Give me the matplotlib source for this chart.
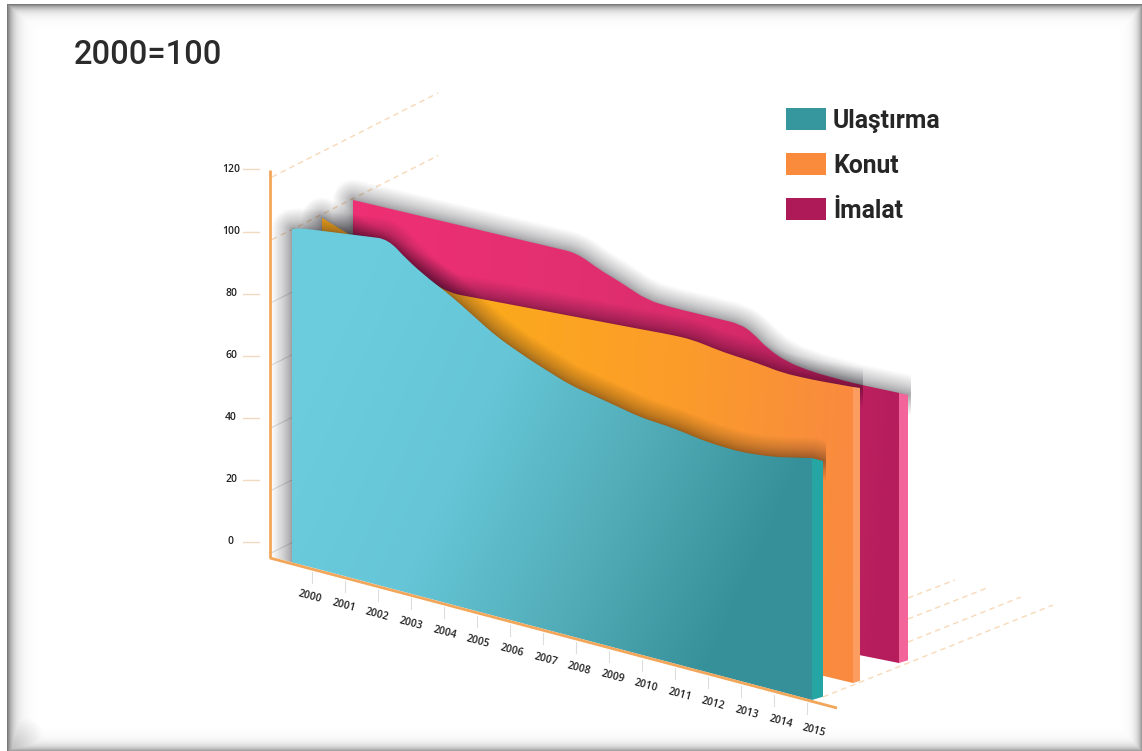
import numpy as np
import matplotlib
matplotlib.use('Agg')
import matplotlib.pyplot as plt
from matplotlib.colors import LinearSegmentedColormap
from matplotlib.patches import PathPatch, Polygon, Rectangle
from matplotlib.path import Path
from matplotlib.transforms import Affine2D

# index values, 2000=100, read along the top edge of each panel
ulastirma_years = [2000, 2000.23, 2002.77, 2003.32, 2003.98, 2004.56, 2005.91, 2006.86,
                   2008.02, 2009.17, 2010.04, 2011.0, 2011.97, 2012.92, 2013.87, 2015]
ulastirma = [100, 101, 105, 99.9, 95.4, 92.2, 82.7, 78.1,
             73.4, 71, 69, 68.3, 66.7, 66.3, 67.5, 70.5]
konut_years = [2000, 2000.71, 2003.62, 2008.98, 2009.92, 2010.48, 2011.33,
               2012.29, 2013.02, 2013.86, 2015]
konut = [100, 97, 85.6, 88.7, 89.3, 89.3, 87.7, 86.8, 85.6, 85.7, 86.5]
imalat_years = [2000, 2006.15, 2006.79, 2007.25, 2008.08, 2008.71, 2010.63, 2010.99,
                2011.37, 2011.92, 2012.64, 2013.74, 2015]
imalat = [100, 97.3, 93.3, 91.2, 86.7, 85.9, 84.9, 82.8, 78.9, 75.7, 74.1, 73.1, 72.9]

years = list(range(2000, 2016))
y_ticks = [0, 20, 40, 60, 80, 100, 120]
legend_names = ['Ulaştırma', 'Konut', 'İmalat']
legend_colors = ['#37979f', '#fb8b3c', '#ae1957']

ORANGE = '#f2a65a'
GRID = '#f8d9b8'
SCALE = 3.09   # pixels per index point

fig = plt.figure(figsize=(11.42, 7.51), dpi=100)
ax = fig.add_axes([0, 0, 1, 1])
ax.set_xlim(0, 1142)
ax.set_ylim(751, 0)
ax.axis('off')


def panel_transform(x0, x1, y1, slope, offset):
    # (year, index) -> canvas, each panel sits on its own sloped floor line
    sx = (x1 - x0) / 15.0
    y0 = y1 - (x1 - x0) * slope
    m = [[sx, 0, x0 - 2000 * sx],
         [slope * sx, -SCALE, y0 - SCALE * offset - 2000 * slope * sx],
         [0, 0, 1]]
    return Affine2D(np.array(m)), x0, x1, y0, y1


def rounded_top(xs, ys, cut=0.3):
    # straight runs between readings, corners rounded over a short stretch
    p = np.column_stack([xs, ys]).astype(float)
    verts = [p[0]]
    codes = [Path.MOVETO]
    for i in range(1, len(p) - 1):
        before = p[i] - p[i - 1]
        after = p[i + 1] - p[i]
        t0 = min(0.5, cut / before[0])
        t1 = min(0.5, cut / after[0])
        verts += [p[i] - before * t0, p[i], p[i] + after * t1]
        codes += [Path.LINETO, Path.CURVE3, Path.CURVE3]
    verts.append(p[-1])
    codes.append(Path.LINETO)
    return np.array(verts), codes


def draw_panel(xs, ys, geom, colors, tilt, strip_color, strip_w, strip_dy, offset, z):
    tr, x0, x1, y0, y1 = panel_transform(*geom, offset)
    verts, codes = rounded_top(xs, ys)
    top = tr.transform((xs[-1], ys[-1]))
    bot = tr.transform((xs[-1], -offset))

    # the shadow stops at the floor line and just past the strip
    floor_slope = (y1 - y0) / (x1 - x0)
    xr = x1 + strip_w + 3
    limit = Polygon([(0, 0), (xr, 0), (xr, y1 + (xr - x1) * floor_slope), (0, y0 - x0 * floor_slope)],
                    fc='none', ec='none', transform=ax.transData)
    ax.add_patch(limit)

    # soft shadow along left and top edges and over the strip, widths bunched towards the edge
    sv = np.vstack([tr.transform([(xs[0], -offset)]), tr.transform(verts), [top + (strip_w, strip_dy)]])
    sc = [Path.MOVETO, Path.LINETO] + codes[1:] + [Path.LINETO]
    for lw in 40 * np.linspace(0.1, 1, 20) ** 1.7:
        sh = PathPatch(Path(sv, sc), fc='none', ec='#14141c', lw=lw * 0.72, alpha=0.025,
                       zorder=z, capstyle='round', joinstyle='round')
        ax.add_patch(sh)
        sh.set_clip_path(limit)

    # side strip on the right
    ax.add_patch(Polygon([top, top + (strip_w, strip_dy), bot + (strip_w, -strip_w * 0.3), bot],
                         fc=strip_color, ec='none', zorder=z + 0.2))

    # face with gradient, clipped to the outline
    fv = np.vstack([[xs[0], -offset], verts, [xs[-1], -offset], [xs[0], -offset]])
    fc = [Path.MOVETO, Path.LINETO] + codes[1:] + [Path.LINETO, Path.CLOSEPOLY]
    outline = PathPatch(Path(fv, fc), fc='none', ec='none', transform=tr + ax.transData)
    ax.add_patch(outline)
    gx, gy = np.meshgrid(np.linspace(0, 1, 300), np.linspace(0, 1, 300))
    cmap = LinearSegmentedColormap.from_list('panel', colors)
    im = ax.imshow(np.clip(gx + tilt * (gy - 0.5), 0, 1), cmap=cmap, vmin=0, vmax=1, aspect='auto',
                   extent=(x0 - 1, x1 + 1, y1 + 2, 190), zorder=z + 0.1)
    im.set_clip_path(outline)


# dashed lines running back from the axes
for v in [120, 100]:
    y = 177 + (120 - v) * 3.13
    ax.plot([272, 438], [y, y - 84], color=GRID, lw=1, ls=(0, (4, 3)), zorder=1)
for v in [80, 60, 40, 20, 0]:
    y = 177 + (120 - v) * 3.13
    ax.plot([272, 292], [y, y - 10], color='#dddddd', lw=0.8, zorder=1)
for xa, ya, xb, yb in [(908, 598, 955, 580), (908, 619, 987, 588), (908, 642, 1021, 597), (823, 697, 1053, 605)]:
    ax.plot([xa, xb], [ya, yb], color=GRID, lw=1, ls=(0, (4, 3)), zorder=1)

# panels from back to front
draw_panel(imalat_years, imalat, (353, 899, 663, 0.2), ['#ee2f73', '#e43071', '#d92b6b', '#b51d5c'],
           0.05, '#f2649a', 9, 2, 14.5, 2)
draw_panel(konut_years, konut, (322, 853, 683, 0.24), ['#fcab1a', '#fca81e', '#fb9c2a', '#f98a40'],
           0.05, '#fb9d60', 7, 1, 9.3, 3)
draw_panel(ulastirma_years, ulastirma, (292, 812, 700, 0.265), ['#6accdd', '#66c6d7', '#52adb8', '#36909a'],
           0.45, '#25a5a3', 11, 3, 7.8, 4)

# axes
ax.plot([270, 270], [170, 558], color=ORANGE, lw=2, zorder=6, solid_capstyle='butt')
ax.plot([270, 837], [558, 708], color=ORANGE, lw=2, zorder=6, solid_capstyle='butt')

for v in y_ticks:
    y = 542 - 3.105 * v
    ax.plot([243, 259], [y, y], color='#f3d9c0', lw=1, zorder=5)
    ax.text(231, 541 - 3.1 * v, str(v), ha='center', va='center', fontsize=7.5, color='#222222',
            family='Open Sans', fontweight='semibold')

for i, yr in enumerate(years):
    xt = 312 + 33 * i
    ya = 558 + (xt - 270) * 0.265
    ax.plot([xt, xt], [ya + 3, ya + 14], color='#dddddd', lw=0.8, zorder=5)
    ax.text(310 + 33.6 * i, 597 + 8.9 * i, str(yr), ha='center', va='center', rotation=-15,
            rotation_mode='anchor', fontsize=7.5, color='#222222', family='Open Sans', fontweight='semibold')

# title and legend
ax.text(74, 55, '2000=100', fontsize=23.5, color='#2b2b2b', family='Roboto', fontweight='medium',
        va='center', ha='left')
for name, col, y in zip(legend_names, legend_colors, [119, 164, 209]):
    ax.add_patch(Rectangle((786, y - 11), 40, 22, fc=col, ec='none', zorder=5))
    ax.text(833, y + 2, name, fontsize=17.8, color='#262626', family='Roboto', fontweight='bold',
            va='center', ha='left', zorder=5)

# dark vignette round the sheet; right and bottom run out to the image edge
xx, yy = np.meshgrid(np.arange(1142) + 0.5, np.arange(751) + 0.5)
left = 0.72 * np.exp(-np.maximum(xx - 7, 0) / 6.0)
top = 0.72 * np.exp(-np.maximum(yy - 4, 0) / 5.0)
right = 0.55 * np.exp(-(1142 - xx) / 4.5)
bottom = 0.5 * np.exp(-(751 - yy) / 5.0)
corner = np.clip(1 - np.hypot(xx - 7, yy - 751) / 42.0, 0, 1) * 0.35
alpha = np.maximum.reduce([left, top, right, bottom, corner])
alpha[(xx < 7) | (yy < 4)] = 0
rgba = np.zeros((751, 1142, 4))
rgba[..., :3] = 0.2
rgba[..., 3] = alpha
ax.imshow(rgba, extent=(0, 1142, 751, 0), aspect='auto', zorder=10, interpolation='nearest')

ax.set_xlim(0, 1142)
ax.set_ylim(751, 0)
fig.savefig('out.png', dpi=100, facecolor='white')
